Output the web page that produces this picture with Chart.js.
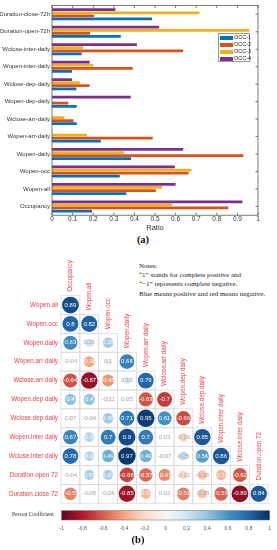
<!DOCTYPE html>
<html>
<head>
<meta charset="utf-8">
<script src="https://cdn.jsdelivr.net/npm/chart.js@4/dist/chart.umd.min.js"></script>
<style>
body{margin:0;width:277px;height:550px;background:#fff;position:relative;overflow:hidden;font-family:"Liberation Sans",Arial,sans-serif}
canvas{position:absolute;left:0}
#bar{top:0}
#matrix{top:250px}
#cbar{top:505px}
.cap{position:absolute;font-family:"Liberation Serif","Times New Roman",serif;font-weight:bold;font-size:10.5px;color:#111;width:40px;text-align:center}
#legend{position:absolute;left:218px;top:33px;width:32px;height:29px;border:0.8px solid #999;background:#fff;box-sizing:border-box;font-size:5.5px;color:#222}
#legend div{height:7px;line-height:7px;white-space:nowrap}
#legend span{display:inline-block;width:13px;height:4px;margin:0 1px 0 1px;vertical-align:middle}
#notes{position:absolute;left:139px;top:262px;font-family:"Liberation Serif","Times New Roman",serif;font-size:7px;line-height:9.2px;color:#222;white-space:nowrap}
#pc{position:absolute;left:12px;top:511px;font-family:"Liberation Serif","Times New Roman",serif;font-size:5.6px;color:#333;white-space:nowrap}
</style>
</head>
<body>
<canvas id="bar" width="277" height="232"></canvas>
<div id="legend"></div>
<div class="cap" style="left:123px;top:234px">(a)</div>
<div id="notes">Notes:<br>“1” stands for complete positive and<br>“−1” represents complete negative.<br>Blue means positive and red means negative.</div>
<canvas id="matrix" width="277" height="262"></canvas>
<canvas id="cbar" width="277" height="30"></canvas>
<div id="pc">Person Coefficient</div>
<div class="cap" style="left:118px;top:534px">(b)</div>
<script>
// ---- (a) bar chart data, top to bottom ----
const categories = ['Duration-close-72h', 'Duration-open-72h', 'Wclose-inter-daily', 'Wopen-inter-daily',
    'Wclose-dep-daily', 'Wopen-dep-daily', 'Wclose-arr-daily', 'Wopen-arr-daily',
    'Wopen-daily', 'Wopen-occ', 'Wopen-all', 'Occupancy'];
const occ1 = [0.486, 0.334, 0.144, 0.097, 0.118, 0.120, 0.120, 0.237, 0.384, 0.329, 0.361, 0.194];
const occ2 = [0.204, 0.185, 0.637, 0.392, 0.182, 0.079, 0.104, 0.489, 0.929, 0.663, 0.504, 0.856];
const occ3 = [0.716, 0.958, 0.151, 0.201, 0.135, 0, 0.060, 0.169, 0.352, 0.677, 0.535, 0.582];
const occ4 = [0.308, 0.520, 0.412, 0.183, 0.097, 0.382, 0, 0, 0.637, 0.596, 0.600, 0.924];
const xTicks = ['0', '0.1', '0.2', '0.3', '0.4', '0.5', '0.6', '0.7', '0.8', '0.9', '1'];

// ---- (b) correlation matrix data ----
const matRows = ['Wopen.all', 'Wopen.occ', 'Wopen.daily', 'Wopen.arr daily', 'Wclose.arr daily',
    'Wopen.dep daily', 'Wclose.dep daily', 'Wopen.inter daily', 'Wclose.inter daily',
    'Duration.open 72', 'Duration.close 72'];
const matCols = ['Occupancy', 'Wopen.all', 'Wopen.occ', 'Wopen.daily', 'Wopen.arr daily',
    'Wclose.arr daily', 'Wopen.dep daily', 'Wclose.dep daily', 'Wopen.inter daily',
    'Wclose.inter daily', 'Duration.open 72'];
const corr = [
    [0.89],
    [0.8, 0.82],
    [0.63, 0.21, 0.35],
    [-0.04, -0.38, 0.1, 0.68],
    [-0.64, -0.87, -0.45, 0.16, 0.79],
    [0.4, 0.4, -0.11, 0.05, -0.63, -0.7],
    [0.07, -0.04, 0.36, 0.71, 0.95, 0.61, -0.66],
    [0.67, 0.3, 0.7, 0.9, 0.7, 0.03, -0.23, 0.85],
    [0.78, 0.3, 0.49, 0.97, 0.49, -0.07, 0.25, 0.56, 0.86],
    [-0.04, 0.33, 0.33, -0.68, -0.57, -0.47, -0.21, -0.28, -0.34, -0.62],
    [-0.5, -0.05, -0.06, -0.85, -0.33, 0.02, -0.51, -0.28, -0.59, -0.89, 0.84]
];
const cbarTicks = ['-1', '-0.8', '-0.6', '-0.4', '-0.2', '0', '0.2', '0.4', '0.6', '0.8', '1'];

// RdBu palette
const rdbu = ['#67001F', '#B2182B', '#D6604D', '#F4A582', '#FDDBC7', '#F7F7F7',
    '#D1E5F0', '#92C5DE', '#4393C3', '#2166AC', '#053061'];

function hexRgb(h) {
    return [parseInt(h.slice(1, 3), 16), parseInt(h.slice(3, 5), 16), parseInt(h.slice(5, 7), 16)];
}

function corrColor(v) {
    const t = (v + 1) / 2 * 10;
    const i = Math.min(9, Math.floor(t));
    const f = t - i;
    const a = hexRgb(rdbu[i]), b = hexRgb(rdbu[i + 1]);
    const c = a.map((x, k) => Math.round(x + (b[k] - x) * f));
    return 'rgb(' + c.join(',') + ')';
}

// box + inward ticks for the bar chart
const boxTicks = {
    id: 'boxTicks',
    afterDraw(chart) {
        const {ctx, chartArea: a, scales: {x, y}} = chart;
        ctx.save();
        ctx.strokeStyle = '#444';
        ctx.lineWidth = 0.7;
        ctx.strokeRect(a.left, a.top, a.right - a.left, a.bottom - a.top);
        ctx.beginPath();
        x.ticks.forEach(t => {
            const px = x.getPixelForValue(t.value);
            ctx.moveTo(px, a.bottom); ctx.lineTo(px, a.bottom - 2.5);
            ctx.moveTo(px, a.top); ctx.lineTo(px, a.top + 2.5);
        });
        categories.forEach((c, i) => {
            const py = y.getPixelForValue(i);
            ctx.moveTo(a.right, py); ctx.lineTo(a.right - 2.5, py);
        });
        ctx.stroke();
        ctx.restore();
    }
};

const barChart = new Chart(document.getElementById('bar'), {
    type: 'bar',
    data: {
        labels: categories,
        datasets: [
            {label: 'OCC-4', data: occ4, backgroundColor: '#7E2F8E'},
            {label: 'OCC-3', data: occ3, backgroundColor: '#EDB120'},
            {label: 'OCC-2', data: occ2, backgroundColor: '#D95319'},
            {label: 'OCC-1', data: occ1, backgroundColor: '#0072BD'}
        ]
    },
    options: {
        indexAxis: 'y',
        responsive: false,
        animation: false,
        layout: {padding: {top: 3, right: 19}},
        datasets: {bar: {categoryPercentage: 0.7, barPercentage: 0.9}},
        plugins: {legend: {display: false}, tooltip: {enabled: false}},
        scales: {
            x: {
                min: 0, max: 1,
                ticks: {stepSize: 0.1, callback: (v, i) => xTicks[i], font: {size: 6.5}, color: '#333', padding: 0, maxRotation: 0},
                grid: {display: false, drawTicks: false},
                border: {display: false},
                title: {display: true, text: 'Ratio', font: {size: 7.5}, color: '#333', padding: 0}
            },
            y: {
                ticks: {autoSkip: false, font: {size: 6}, color: '#333', padding: 2},
                grid: {display: false, drawTicks: false},
                border: {display: false},
                afterFit: s => { s.width = 52; }
            }
        }
    },
    plugins: [boxTicks]
});

// legend in the original order OCC-1..OCC-4
const legend = document.getElementById('legend');
barChart.data.datasets.slice().reverse().forEach(ds => {
    const row = document.createElement('div');
    row.innerHTML = '<span style="background:' + ds.backgroundColor + '"></span>' + ds.label;
    legend.appendChild(row);
});

// ---- matrix ----
// circle area proportional to |r|
const cells = [];
corr.forEach((row, i) => row.forEach((v, j) => cells.push({x: j, y: i, r: 8.9 * Math.sqrt(Math.abs(v)), v: v})));

function cellSize(chart) {
    const x = chart.scales.x;
    return Math.abs(x.getPixelForValue(1) - x.getPixelForValue(0));
}

const matrixDecor = {
    id: 'matrixDecor',
    beforeDatasetsDraw(chart) {
        const {ctx, scales: {x, y}} = chart;
        const cs = cellSize(chart);
        ctx.save();
        ctx.strokeStyle = '#dadada';
        ctx.lineWidth = 0.8;
        cells.forEach(c => {
            ctx.strokeRect(x.getPixelForValue(c.x) - cs / 2, y.getPixelForValue(c.y) - cs / 2, cs, cs);
        });
        ctx.restore();
    },
    afterDatasetsDraw(chart) {
        const {ctx, scales: {x, y}} = chart;
        const cs = cellSize(chart);
        ctx.save();
        ctx.textAlign = 'center';
        ctx.textBaseline = 'middle';
        ctx.font = '6px "Liberation Sans", Arial, sans-serif';
        cells.forEach(c => {
            ctx.fillStyle = Math.abs(c.v) >= 0.3 ? '#fff' : '#a8a8a8';
            ctx.fillText(String(c.v), x.getPixelForValue(c.x), y.getPixelForValue(c.y));
        });
        ctx.fillStyle = '#EE3E44';
        ctx.font = '6.3px "Liberation Sans", Arial, sans-serif';
        ctx.textAlign = 'right';
        matRows.forEach((r, i) => {
            ctx.fillText(r, x.getPixelForValue(0) - cs / 2 - 3, y.getPixelForValue(i));
        });
        ctx.textAlign = 'left';
        matCols.forEach((c, j) => {
            const px = x.getPixelForValue(j);
            const py = y.getPixelForValue(j) - cs / 2 - 4;
            ctx.save();
            ctx.translate(px, py);
            ctx.rotate(-Math.PI / 2);
            ctx.fillText(c, 0, 0);
            ctx.restore();
        });
        ctx.restore();
    }
};

new Chart(document.getElementById('matrix'), {
    type: 'bubble',
    data: {
        datasets: [{
            data: cells,
            backgroundColor: cells.map(c => corrColor(c.v)),
            borderColor: cells.map(c => corrColor(c.v)),
            borderWidth: 0,
            clip: false
        }]
    },
    options: {
        responsive: false,
        animation: false,
        layout: {padding: {left: 61, right: 3.7, top: 45.6, bottom: 4.1}},
        plugins: {legend: {display: false}, tooltip: {enabled: false}},
        scales: {
            x: {type: 'linear', min: -0.5, max: 10.5, display: false},
            y: {type: 'linear', min: -0.5, max: 10.5, reverse: true, display: false}
        }
    },
    plugins: [matrixDecor]
});

// ---- colour bar ----
const gradientFill = {
    id: 'gradientFill',
    beforeDatasetsDraw(chart) {
        const {ctx, chartArea: a} = chart;
        const g = ctx.createLinearGradient(a.left, 0, a.right, 0);
        rdbu.forEach((c, i) => g.addColorStop(i / (rdbu.length - 1), c));
        ctx.save();
        ctx.fillStyle = g;
        ctx.fillRect(a.left, a.top, a.right - a.left, a.bottom - a.top);
        ctx.strokeStyle = '#666';
        ctx.lineWidth = 0.5;
        ctx.strokeRect(a.left, a.top, a.right - a.left, a.bottom - a.top);
        ctx.restore();
    }
};

new Chart(document.getElementById('cbar'), {
    type: 'scatter',
    data: {datasets: []},
    options: {
        responsive: false,
        animation: false,
        layout: {padding: {left: 61.7, right: 4, top: 5.7}},
        plugins: {legend: {display: false}, tooltip: {enabled: false}},
        scales: {
            x: {
                type: 'linear', min: -1, max: 1,
                ticks: {stepSize: 0.2, callback: (v, i) => cbarTicks[i], font: {size: 5}, color: '#555', padding: 6, maxRotation: 0},
                grid: {display: false, drawTicks: false},
                border: {display: false},
                afterFit: s => { s.height = 15; }
            },
            y: {display: false, min: 0, max: 1}
        }
    },
    plugins: [gradientFill]
});
</script>
</body>
</html>
